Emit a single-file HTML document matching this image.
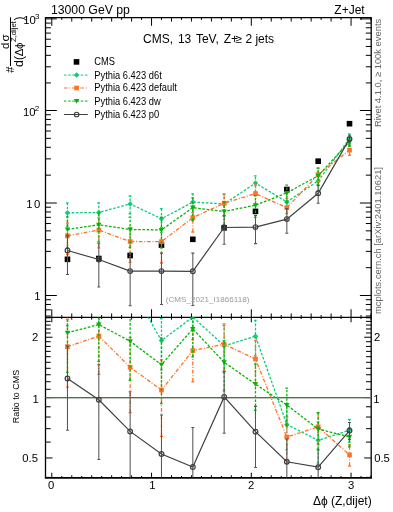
<!DOCTYPE html>
<html><head><meta charset="utf-8"><style>
html,body{margin:0;padding:0;background:#fff;width:393px;height:512px;overflow:hidden}
svg{display:block;will-change:transform}
text{font-family:"Liberation Sans", sans-serif}
</style></head><body>
<svg width="393" height="512" viewBox="0 0 393 512">
<rect width="393" height="512" fill="#fff"/>
<path d="M51.80 317.45v-8.2M51.80 17.55v8.2M51.80 317.4v4.9M51.80 477.6v-4.9M61.77 317.45v-2.4M61.77 17.55v2.4M61.77 317.4v1.6M61.77 477.6v-1.6M71.75 317.45v-4.0M71.75 17.55v4.0M71.75 317.4v2.3M71.75 477.6v-2.3M81.72 317.45v-2.4M81.72 17.55v2.4M81.72 317.4v1.6M81.72 477.6v-1.6M91.70 317.45v-4.0M91.70 17.55v4.0M91.70 317.4v2.3M91.70 477.6v-2.3M101.67 317.45v-2.4M101.67 17.55v2.4M101.67 317.4v1.6M101.67 477.6v-1.6M111.65 317.45v-4.0M111.65 17.55v4.0M111.65 317.4v2.3M111.65 477.6v-2.3M121.62 317.45v-2.4M121.62 17.55v2.4M121.62 317.4v1.6M121.62 477.6v-1.6M131.60 317.45v-4.0M131.60 17.55v4.0M131.60 317.4v2.3M131.60 477.6v-2.3M141.57 317.45v-2.4M141.57 17.55v2.4M141.57 317.4v1.6M141.57 477.6v-1.6M151.55 317.45v-8.2M151.55 17.55v8.2M151.55 317.4v4.9M151.55 477.6v-4.9M161.53 317.45v-2.4M161.53 17.55v2.4M161.53 317.4v1.6M161.53 477.6v-1.6M171.50 317.45v-4.0M171.50 17.55v4.0M171.50 317.4v2.3M171.50 477.6v-2.3M181.48 317.45v-2.4M181.48 17.55v2.4M181.48 317.4v1.6M181.48 477.6v-1.6M191.45 317.45v-4.0M191.45 17.55v4.0M191.45 317.4v2.3M191.45 477.6v-2.3M201.43 317.45v-2.4M201.43 17.55v2.4M201.43 317.4v1.6M201.43 477.6v-1.6M211.40 317.45v-4.0M211.40 17.55v4.0M211.40 317.4v2.3M211.40 477.6v-2.3M221.38 317.45v-2.4M221.38 17.55v2.4M221.38 317.4v1.6M221.38 477.6v-1.6M231.35 317.45v-4.0M231.35 17.55v4.0M231.35 317.4v2.3M231.35 477.6v-2.3M241.32 317.45v-2.4M241.32 17.55v2.4M241.32 317.4v1.6M241.32 477.6v-1.6M251.30 317.45v-8.2M251.30 17.55v8.2M251.30 317.4v4.9M251.30 477.6v-4.9M261.28 317.45v-2.4M261.28 17.55v2.4M261.28 317.4v1.6M261.28 477.6v-1.6M271.25 317.45v-4.0M271.25 17.55v4.0M271.25 317.4v2.3M271.25 477.6v-2.3M281.22 317.45v-2.4M281.22 17.55v2.4M281.22 317.4v1.6M281.22 477.6v-1.6M291.20 317.45v-4.0M291.20 17.55v4.0M291.20 317.4v2.3M291.20 477.6v-2.3M301.18 317.45v-2.4M301.18 17.55v2.4M301.18 317.4v1.6M301.18 477.6v-1.6M311.15 317.45v-4.0M311.15 17.55v4.0M311.15 317.4v2.3M311.15 477.6v-2.3M321.13 317.45v-2.4M321.13 17.55v2.4M321.13 317.4v1.6M321.13 477.6v-1.6M331.10 317.45v-4.0M331.10 17.55v4.0M331.10 317.4v2.3M331.10 477.6v-2.3M341.07 317.45v-2.4M341.07 17.55v2.4M341.07 317.4v1.6M341.07 477.6v-1.6M351.05 317.45v-8.2M351.05 17.55v8.2M351.05 317.4v4.9M351.05 477.6v-4.9M361.03 317.45v-2.4M361.03 17.55v2.4M361.03 317.4v1.6M361.03 477.6v-1.6M371.00 317.45v-4.0M371.00 17.55v4.0M371.00 317.4v2.3M371.00 477.6v-2.3M45.5 316.02h5.4M371.2 316.02h-5.4M45.5 309.83h5.4M371.2 309.83h-5.4M45.5 304.46h5.4M371.2 304.46h-5.4M45.5 299.73h5.4M371.2 299.73h-5.4M45.5 295.50h11.3M371.2 295.50h-11.3M45.5 267.65h5.4M371.2 267.65h-5.4M45.5 251.37h5.4M371.2 251.37h-5.4M45.5 239.81h5.4M371.2 239.81h-5.4M45.5 230.85h5.4M371.2 230.85h-5.4M45.5 223.52h5.4M371.2 223.52h-5.4M45.5 217.33h5.4M371.2 217.33h-5.4M45.5 211.96h5.4M371.2 211.96h-5.4M45.5 207.23h5.4M371.2 207.23h-5.4M45.5 203.00h11.3M371.2 203.00h-11.3M45.5 175.15h5.4M371.2 175.15h-5.4M45.5 158.87h5.4M371.2 158.87h-5.4M45.5 147.31h5.4M371.2 147.31h-5.4M45.5 138.35h5.4M371.2 138.35h-5.4M45.5 131.02h5.4M371.2 131.02h-5.4M45.5 124.83h5.4M371.2 124.83h-5.4M45.5 119.46h5.4M371.2 119.46h-5.4M45.5 114.73h5.4M371.2 114.73h-5.4M45.5 110.50h11.3M371.2 110.50h-11.3M45.5 82.93h5.4M371.2 82.93h-5.4M45.5 66.80h5.4M371.2 66.80h-5.4M45.5 55.35h5.4M371.2 55.35h-5.4M45.5 46.47h5.4M371.2 46.47h-5.4M45.5 39.22h5.4M371.2 39.22h-5.4M45.5 33.09h5.4M371.2 33.09h-5.4M45.5 27.78h5.4M371.2 27.78h-5.4M45.5 23.09h5.4M371.2 23.09h-5.4M45.5 18.90h11.3M371.2 18.90h-11.3M45.5 477.39h5.2M371.2 477.39h-5.2M45.5 457.96h7.0M371.2 457.96h-7.0M45.5 442.08h5.2M371.2 442.08h-5.2M45.5 428.66h5.2M371.2 428.66h-5.2M45.5 417.03h5.2M371.2 417.03h-5.2M45.5 406.77h5.2M371.2 406.77h-5.2M45.5 397.60h7.0M371.2 397.60h-7.0M45.5 389.30h5.2M371.2 389.30h-5.2M45.5 381.72h5.2M371.2 381.72h-5.2M45.5 374.75h5.2M371.2 374.75h-5.2M45.5 368.30h5.2M371.2 368.30h-5.2M45.5 362.29h5.2M371.2 362.29h-5.2M45.5 356.67h5.2M371.2 356.67h-5.2M45.5 351.39h5.2M371.2 351.39h-5.2M45.5 346.42h5.2M371.2 346.42h-5.2M45.5 341.71h5.2M371.2 341.71h-5.2M45.5 337.24h7.0M371.2 337.24h-7.0M45.5 333.00h5.2M371.2 333.00h-5.2M45.5 328.94h5.2M371.2 328.94h-5.2M45.5 325.07h5.2M371.2 325.07h-5.2M45.5 321.37h5.2M371.2 321.37h-5.2M45.5 317.81h5.2M371.2 317.81h-5.2" stroke="#000" stroke-width="1" fill="none"/>
<path d="M45.5 17.55H371.2M45.5 317.45H371.2M45.5 17.55V477.6M371.2 17.55V477.6" fill="none" stroke="#000" stroke-width="1.3" stroke-linecap="square"/>
<path d="M44.9 477.90000000000003H371.8" fill="none" stroke="#000" stroke-width="1.8"/>
<defs><clipPath id="cm"><rect x="45.5" y="17.4" width="325.5" height="300"/></clipPath><clipPath id="cr"><rect x="45.5" y="317.4" width="325.5" height="160.2"/></clipPath></defs>
<g clip-path="url(#cm)"><rect x="64.67" y="256.50" width="5.6" height="5.6" fill="#000"/><rect x="96.01" y="255.70" width="5.6" height="5.6" fill="#000"/><rect x="127.34" y="252.70" width="5.6" height="5.6" fill="#000"/><rect x="158.68" y="242.30" width="5.6" height="5.6" fill="#000"/><rect x="190.02" y="236.50" width="5.6" height="5.6" fill="#000"/><rect x="221.36" y="225.00" width="5.6" height="5.6" fill="#000"/><rect x="252.69" y="208.60" width="5.6" height="5.6" fill="#000"/><rect x="284.03" y="186.70" width="5.6" height="5.6" fill="#000"/><rect x="315.37" y="158.40" width="5.6" height="5.6" fill="#000"/><rect x="346.71" y="120.90" width="5.6" height="5.6" fill="#000"/><path d="M67.47 212.80L98.81 212.50L130.14 203.90L161.48 218.80L192.82 202.10L224.16 203.90L255.49 183.10L286.83 201.90L318.17 180.90L349.51 138.70" fill="none" stroke="#0ecb7e" stroke-width="1.3" stroke-dasharray="2.6 1.6"/><path d="M67.47 226.14V202.80M65.97 226.14h3M65.97 202.80h3M98.81 224.97V203.00M97.31 224.97h3M97.31 203.00h3M130.14 213.74V196.00M128.64 213.74h3M128.64 196.00h3M161.48 232.32V208.70M159.98 232.32h3M159.98 208.70h3M192.82 212.57V193.80M191.32 212.57h3M191.32 193.80h3M224.16 216.32V194.43M222.66 216.32h3M222.66 194.43h3M255.49 192.03V175.80M253.99 192.03h3M253.99 175.80h3M286.83 213.60V192.85M285.33 213.60h3M285.33 192.85h3M318.17 191.44V172.56M316.67 191.44h3M316.67 172.56h3M349.51 144.28V133.80M348.01 144.28h3M348.01 133.80h3" fill="none" stroke="#0ecb7e" stroke-width="1.3" stroke-dasharray="2.6 1.6"/><path d="M67.47 210.05L70.22 212.80L67.47 215.55L64.72 212.80Z" fill="#0ecb7e"/><path d="M98.81 209.75L101.56 212.50L98.81 215.25L96.06 212.50Z" fill="#0ecb7e"/><path d="M130.14 201.15L132.89 203.90L130.14 206.65L127.39 203.90Z" fill="#0ecb7e"/><path d="M161.48 216.05L164.23 218.80L161.48 221.55L158.73 218.80Z" fill="#0ecb7e"/><path d="M192.82 199.35L195.57 202.10L192.82 204.85L190.07 202.10Z" fill="#0ecb7e"/><path d="M224.16 201.15L226.91 203.90L224.16 206.65L221.41 203.90Z" fill="#0ecb7e"/><path d="M255.49 180.35L258.24 183.10L255.49 185.85L252.74 183.10Z" fill="#0ecb7e"/><path d="M286.83 199.15L289.58 201.90L286.83 204.65L284.08 201.90Z" fill="#0ecb7e"/><path d="M318.17 178.15L320.92 180.90L318.17 183.65L315.42 180.90Z" fill="#0ecb7e"/><path d="M349.51 135.95L352.26 138.70L349.51 141.45L346.76 138.70Z" fill="#0ecb7e"/><path d="M67.47 235.80L98.81 230.10L130.14 241.50L161.48 241.60L192.82 217.60L224.16 203.20L255.49 193.60L286.83 207.70L318.17 174.70L349.51 150.10" fill="none" stroke="#ff7328" stroke-width="1.3" stroke-dasharray="3.8 1.7 1.0 1.7"/><path d="M67.47 254.50V223.09M65.97 254.50h3M65.97 223.09h3M98.81 247.80V217.86M97.31 247.80h3M97.31 217.86h3M130.14 262.40V227.82M128.64 262.40h3M128.64 227.82h3M161.48 263.00V227.71M159.98 263.00h3M159.98 227.71h3M192.82 232.00V207.02M191.32 232.00h3M191.32 207.02h3M224.16 215.49V193.80M222.66 215.49h3M222.66 193.80h3M255.49 204.56V185.00M253.99 204.56h3M253.99 185.00h3M286.83 219.82V198.40M285.33 219.82h3M285.33 198.40h3M318.17 182.60V168.10M316.67 182.60h3M316.67 168.10h3M349.51 155.30V145.50M348.01 155.30h3M348.01 145.50h3" fill="none" stroke="#ff7328" stroke-width="1.3" stroke-dasharray="3.8 1.7 1.0 1.7"/><rect x="65.12" y="233.45" width="4.7" height="4.7" fill="#ff7328"/><rect x="96.46" y="227.75" width="4.7" height="4.7" fill="#ff7328"/><rect x="127.79" y="239.15" width="4.7" height="4.7" fill="#ff7328"/><rect x="159.13" y="239.25" width="4.7" height="4.7" fill="#ff7328"/><rect x="190.47" y="215.25" width="4.7" height="4.7" fill="#ff7328"/><rect x="221.81" y="200.85" width="4.7" height="4.7" fill="#ff7328"/><rect x="253.14" y="191.25" width="4.7" height="4.7" fill="#ff7328"/><rect x="284.48" y="205.35" width="4.7" height="4.7" fill="#ff7328"/><rect x="315.82" y="172.35" width="4.7" height="4.7" fill="#ff7328"/><rect x="347.16" y="147.75" width="4.7" height="4.7" fill="#ff7328"/><path d="M67.47 229.40L98.81 224.80L130.14 229.50L161.48 229.90L192.82 207.60L224.16 211.50L255.49 205.20L286.83 192.90L318.17 175.70L349.51 141.80" fill="none" stroke="#07b307" stroke-width="1.3" stroke-dasharray="2.6 1.6"/><path d="M67.47 247.70V216.87M65.97 247.70h3M65.97 216.87h3M98.81 241.80V212.89M97.31 241.80h3M97.31 212.89h3M130.14 247.50V217.11M128.64 247.50h3M128.64 217.11h3M161.48 247.90V217.51M159.98 247.90h3M159.98 217.51h3M192.82 220.50V197.85M191.32 220.50h3M191.32 197.85h3M224.16 224.70V201.58M222.66 224.70h3M222.66 201.58h3M255.49 217.30V195.91M253.99 217.30h3M253.99 195.91h3M286.83 202.59V185.10M285.33 202.59h3M285.33 185.10h3M318.17 185.00V168.15M316.67 185.00h3M316.67 168.15h3M349.51 146.44V137.64M348.01 146.44h3M348.01 137.64h3" fill="none" stroke="#07b307" stroke-width="1.3" stroke-dasharray="2.6 1.6"/><path d="M64.77 227.40L70.17 227.40L67.47 232.10Z" fill="#07b307"/><path d="M96.11 222.80L101.51 222.80L98.81 227.50Z" fill="#07b307"/><path d="M127.44 227.50L132.84 227.50L130.14 232.20Z" fill="#07b307"/><path d="M158.78 227.90L164.18 227.90L161.48 232.60Z" fill="#07b307"/><path d="M190.12 205.60L195.52 205.60L192.82 210.30Z" fill="#07b307"/><path d="M221.46 209.50L226.86 209.50L224.16 214.20Z" fill="#07b307"/><path d="M252.79 203.20L258.19 203.20L255.49 207.90Z" fill="#07b307"/><path d="M284.13 190.90L289.53 190.90L286.83 195.60Z" fill="#07b307"/><path d="M315.47 173.70L320.87 173.70L318.17 178.40Z" fill="#07b307"/><path d="M346.81 139.80L352.21 139.80L349.51 144.50Z" fill="#07b307"/><path d="M67.47 250.50L98.81 259.50L130.14 271.10L161.48 271.10L192.82 271.30L224.16 227.50L255.49 227.10L286.83 219.10L318.17 193.30L349.51 138.90" fill="none" stroke="#404040" stroke-width="1.2"/><path d="M67.47 274.40V235.62M65.97 274.40h3M65.97 235.62h3M98.81 287.08V243.30M97.31 287.08h3M97.31 243.30h3M130.14 305.67V252.80M128.64 305.67h3M128.64 252.80h3M161.48 304.57V253.10M159.98 304.57h3M159.98 253.10h3M192.82 305.49V253.10M191.32 305.49h3M191.32 253.10h3M224.16 244.20V215.74M222.66 244.20h3M222.66 215.74h3M255.49 243.60V215.44M253.99 243.60h3M253.99 215.44h3M286.83 233.30V208.63M285.33 233.30h3M285.33 208.63h3M318.17 203.20V185.36M316.67 203.20h3M316.67 185.36h3M349.51 142.98V135.20M348.01 142.98h3M348.01 135.20h3" fill="none" stroke="#555" stroke-width="1.05"/><circle cx="67.47" cy="250.50" r="2.35" fill="none" stroke="#404040" stroke-width="1.2"/><circle cx="98.81" cy="259.50" r="2.35" fill="none" stroke="#404040" stroke-width="1.2"/><circle cx="130.14" cy="271.10" r="2.35" fill="none" stroke="#404040" stroke-width="1.2"/><circle cx="161.48" cy="271.10" r="2.35" fill="none" stroke="#404040" stroke-width="1.2"/><circle cx="192.82" cy="271.30" r="2.35" fill="none" stroke="#404040" stroke-width="1.2"/><circle cx="224.16" cy="227.50" r="2.35" fill="none" stroke="#404040" stroke-width="1.2"/><circle cx="255.49" cy="227.10" r="2.35" fill="none" stroke="#404040" stroke-width="1.2"/><circle cx="286.83" cy="219.10" r="2.35" fill="none" stroke="#404040" stroke-width="1.2"/><circle cx="318.17" cy="193.30" r="2.35" fill="none" stroke="#404040" stroke-width="1.2"/><circle cx="349.51" cy="138.90" r="2.35" fill="none" stroke="#404040" stroke-width="1.2"/></g>
<path d="M45.5 398.60H371.2" stroke="#000" stroke-opacity="0.12" stroke-width="1"/>
<path d="M45.5 397.60H371.2" stroke="#4f7443" stroke-width="1.1"/>
<g clip-path="url(#cr)"><path d="M67.47 296.81L98.81 297.89L130.14 285.75L161.48 340.59L192.82 316.97L224.16 345.80L255.49 336.26L286.83 424.48L318.17 440.30L349.51 430.11" fill="none" stroke="#0ecb7e" stroke-width="1.3" stroke-dasharray="2.6 1.6"/><path d="M67.47 325.73V275.13M65.97 325.73h3M65.97 275.13h3M98.81 324.91V277.30M97.31 324.91h3M97.31 277.30h3M130.14 307.09V268.63M128.64 307.09h3M128.64 268.63h3M161.48 369.91V318.70M159.98 369.91h3M159.98 318.70h3M192.82 339.67V298.98M191.32 339.67h3M191.32 298.98h3M224.16 372.71V325.26M222.66 372.71h3M222.66 325.26h3M255.49 355.61V320.43M253.99 355.61h3M253.99 320.43h3M286.83 449.84V404.86M285.33 449.84h3M285.33 404.86h3M318.17 463.14V422.22M316.67 463.14h3M316.67 422.22h3M349.51 442.21V419.49M348.01 442.21h3M348.01 419.49h3" fill="none" stroke="#0ecb7e" stroke-width="1.3" stroke-dasharray="2.6 1.6"/><path d="M67.47 294.06L70.22 296.81L67.47 299.56L64.72 296.81Z" fill="#0ecb7e"/><path d="M98.81 295.14L101.56 297.89L98.81 300.64L96.06 297.89Z" fill="#0ecb7e"/><path d="M130.14 283.00L132.89 285.75L130.14 288.50L127.39 285.75Z" fill="#0ecb7e"/><path d="M161.48 337.84L164.23 340.59L161.48 343.34L158.73 340.59Z" fill="#0ecb7e"/><path d="M192.82 314.22L195.57 316.97L192.82 319.72L190.07 316.97Z" fill="#0ecb7e"/><path d="M224.16 343.05L226.91 345.80L224.16 348.55L221.41 345.80Z" fill="#0ecb7e"/><path d="M255.49 333.51L258.24 336.26L255.49 339.01L252.74 336.26Z" fill="#0ecb7e"/><path d="M286.83 421.73L289.58 424.48L286.83 427.23L284.08 424.48Z" fill="#0ecb7e"/><path d="M318.17 437.55L320.92 440.30L318.17 443.05L315.42 440.30Z" fill="#0ecb7e"/><path d="M349.51 427.36L352.26 430.11L349.51 432.86L346.76 430.11Z" fill="#0ecb7e"/><path d="M67.47 346.66L98.81 336.04L130.14 367.25L161.48 390.01L192.82 350.56L224.16 344.28L255.49 359.02L286.83 437.05L318.17 426.86L349.51 454.82" fill="none" stroke="#ff7328" stroke-width="1.3" stroke-dasharray="3.8 1.7 1.0 1.7"/><path d="M67.47 387.20V319.11M65.97 387.20h3M65.97 319.11h3M98.81 374.41V309.50M97.31 374.41h3M97.31 309.50h3M130.14 412.56V337.61M128.64 412.56h3M128.64 337.61h3M161.48 436.40V359.91M159.98 436.40h3M159.98 359.91h3M192.82 381.78V327.63M191.32 381.78h3M191.32 327.63h3M224.16 370.93V323.90M222.66 370.93h3M222.66 323.90h3M255.49 382.77V340.38M253.99 382.77h3M253.99 340.38h3M286.83 463.33V416.89M285.33 463.33h3M285.33 416.89h3M318.17 443.99V412.56M316.67 443.99h3M316.67 412.56h3M349.51 466.10V444.85M348.01 466.10h3M348.01 444.85h3" fill="none" stroke="#ff7328" stroke-width="1.3" stroke-dasharray="3.8 1.7 1.0 1.7"/><rect x="65.12" y="344.31" width="4.7" height="4.7" fill="#ff7328"/><rect x="96.46" y="333.69" width="4.7" height="4.7" fill="#ff7328"/><rect x="127.79" y="364.90" width="4.7" height="4.7" fill="#ff7328"/><rect x="159.13" y="387.66" width="4.7" height="4.7" fill="#ff7328"/><rect x="190.47" y="348.21" width="4.7" height="4.7" fill="#ff7328"/><rect x="221.81" y="341.93" width="4.7" height="4.7" fill="#ff7328"/><rect x="253.14" y="356.67" width="4.7" height="4.7" fill="#ff7328"/><rect x="284.48" y="434.70" width="4.7" height="4.7" fill="#ff7328"/><rect x="315.82" y="424.51" width="4.7" height="4.7" fill="#ff7328"/><rect x="347.16" y="452.47" width="4.7" height="4.7" fill="#ff7328"/><path d="M67.47 332.79L98.81 324.55L130.14 341.24L161.48 364.65L192.82 328.89L224.16 362.27L255.49 384.16L286.83 404.97L318.17 429.03L349.51 436.83" fill="none" stroke="#07b307" stroke-width="1.3" stroke-dasharray="2.6 1.6"/><path d="M67.47 372.46V305.64M65.97 372.46h3M65.97 305.64h3M98.81 361.40V298.74M97.31 361.40h3M97.31 298.74h3M130.14 380.26V314.40M128.64 380.26h3M128.64 314.40h3M161.48 403.67V337.81M159.98 403.67h3M159.98 337.81h3M192.82 356.85V307.76M191.32 356.85h3M191.32 307.76h3M224.16 390.88V340.77M222.66 390.88h3M222.66 340.77h3M255.49 410.39V364.03M253.99 410.39h3M253.99 364.03h3M286.83 425.97V388.06M285.33 425.97h3M285.33 388.06h3M318.17 449.19V412.67M316.67 449.19h3M316.67 412.67h3M349.51 446.88V427.83M348.01 446.88h3M348.01 427.83h3" fill="none" stroke="#07b307" stroke-width="1.3" stroke-dasharray="2.6 1.6"/><path d="M64.77 330.79L70.17 330.79L67.47 335.49Z" fill="#07b307"/><path d="M96.11 322.55L101.51 322.55L98.81 327.25Z" fill="#07b307"/><path d="M127.44 339.24L132.84 339.24L130.14 343.94Z" fill="#07b307"/><path d="M158.78 362.65L164.18 362.65L161.48 367.35Z" fill="#07b307"/><path d="M190.12 326.89L195.52 326.89L192.82 331.59Z" fill="#07b307"/><path d="M221.46 360.27L226.86 360.27L224.16 364.97Z" fill="#07b307"/><path d="M252.79 382.16L258.19 382.16L255.49 386.86Z" fill="#07b307"/><path d="M284.13 402.97L289.53 402.97L286.83 407.67Z" fill="#07b307"/><path d="M315.47 427.03L320.87 427.03L318.17 431.73Z" fill="#07b307"/><path d="M346.81 434.83L352.21 434.83L349.51 439.53Z" fill="#07b307"/><path d="M67.47 378.53L98.81 399.77L130.14 431.41L161.48 453.96L192.82 466.96L224.16 396.95L255.49 431.63L286.83 461.76L318.17 467.18L349.51 430.55" fill="none" stroke="#404040" stroke-width="1.2"/><path d="M67.47 430.33V346.27M65.97 430.33h3M65.97 346.27h3M98.81 459.55V364.65M97.31 459.55h3M97.31 364.65h3M130.14 506.34V391.75M128.64 506.34h3M128.64 391.75h3M161.48 526.50V414.94M159.98 526.50h3M159.98 414.94h3M192.82 541.08V427.51M191.32 541.08h3M191.32 427.51h3M224.16 433.15V371.46M222.66 433.15h3M222.66 371.46h3M255.49 467.40V406.35M253.99 467.40h3M253.99 406.35h3M286.83 492.54V439.06M285.33 492.54h3M285.33 439.06h3M318.17 488.64V449.98M316.67 488.64h3M316.67 449.98h3M349.51 439.38V422.53M348.01 439.38h3M348.01 422.53h3" fill="none" stroke="#555" stroke-width="1.05"/><circle cx="67.47" cy="378.53" r="2.35" fill="none" stroke="#404040" stroke-width="1.2"/><circle cx="98.81" cy="399.77" r="2.35" fill="none" stroke="#404040" stroke-width="1.2"/><circle cx="130.14" cy="431.41" r="2.35" fill="none" stroke="#404040" stroke-width="1.2"/><circle cx="161.48" cy="453.96" r="2.35" fill="none" stroke="#404040" stroke-width="1.2"/><circle cx="192.82" cy="466.96" r="2.35" fill="none" stroke="#404040" stroke-width="1.2"/><circle cx="224.16" cy="396.95" r="2.35" fill="none" stroke="#404040" stroke-width="1.2"/><circle cx="255.49" cy="431.63" r="2.35" fill="none" stroke="#404040" stroke-width="1.2"/><circle cx="286.83" cy="461.76" r="2.35" fill="none" stroke="#404040" stroke-width="1.2"/><circle cx="318.17" cy="467.18" r="2.35" fill="none" stroke="#404040" stroke-width="1.2"/><circle cx="349.51" cy="430.55" r="2.35" fill="none" stroke="#404040" stroke-width="1.2"/></g>
<rect x="73.70" y="59.10" width="5.6" height="5.6" fill="#000"/>
<path d="M63.9 75.1H87.8" stroke="#0ecb7e" stroke-width="1.0" stroke-dasharray="2.6 1.6" fill="none"/>
<path d="M76.60 72.35L79.35 75.10L76.60 77.85L73.85 75.10Z" fill="#0ecb7e"/>
<path d="M63.9 88.0H87.8" stroke="#ff7328" stroke-width="1.0" stroke-dasharray="3.8 1.7 1.0 1.7" fill="none"/>
<rect x="74.25" y="85.65" width="4.7" height="4.7" fill="#ff7328"/>
<path d="M63.9 101.1H87.8" stroke="#07b307" stroke-width="1.0" stroke-dasharray="2.6 1.6" fill="none"/>
<path d="M73.90 99.10L79.30 99.10L76.60 103.80Z" fill="#07b307"/>
<path d="M63.9 114.5H87.8" stroke="#404040" stroke-width="1.0" fill="none"/>
<circle cx="76.60" cy="114.50" r="2.3" fill="none" stroke="#404040" stroke-width="1.1"/>
<text x="50.9" y="13.7" font-size="12.25" text-anchor="start" fill="#000" >13000 GeV pp</text>
<text x="364.7" y="13.9" font-size="12" text-anchor="end" fill="#000" >Z+Jet</text>
<text x="208.6" y="42.6" font-size="12" text-anchor="middle" fill="#000" >CMS, <tspan dx="1.5">13</tspan> <tspan dx="1.5">TeV,</tspan> <tspan dx="1.5">Z+</tspan><tspan dx="-2.5">≥</tspan> 2 jets</text>
<text x="23.15" y="23.9" font-size="11.3">10</text>
<text x="34.90" y="18.8" font-size="8">3</text>
<text x="23.00" y="115.7" font-size="11.3">10</text>
<text x="34.66" y="110.9" font-size="8">2</text>
<text x="26.27" y="207.7" font-size="11.3">1</text>
<text x="34.04" y="207.7" font-size="11.3">0</text>
<text x="34.17" y="299.8" font-size="11.3">1</text>
<text x="31.94" y="340.7" font-size="11.3">2</text>
<text x="32.42" y="402.8" font-size="11.3">1</text>
<text x="22.30" y="461.7" font-size="11.3">0.5</text>
<text x="373.99" y="340.8" font-size="11.3">2</text>
<text x="373.27" y="402.8" font-size="11.3">1</text>
<text x="374.20" y="461.8" font-size="11.3">0.5</text>
<text x="47.89" y="488.7" font-size="11.3">0</text>
<text x="149.17" y="488.7" font-size="11.3">1</text>
<text x="247.89" y="488.7" font-size="11.3">2</text>
<text x="347.94" y="488.7" font-size="11.3">3</text>
<text x="371.7" y="505.4" font-size="12" text-anchor="end" fill="#000" >Δϕ (Z,dijet)</text>
<text x="207.6" y="301.8" font-size="8.1" text-anchor="middle" fill="#999" >(CMS_2021_I1866118)</text>
<text font-size="9.0" text-anchor="middle" transform="translate(18.9 396.6) rotate(-90)">Ratio to CMS</text>
<text font-size="9.4" fill="#666" transform="translate(380.8 127.1) rotate(-90)">Rivet 4.1.0, ≥ 100k events</text>
<text font-size="9.4" fill="#666" transform="translate(380.8 314.0) rotate(-90)">mcplots.cern.ch [arXiv:2401.10621]</text>
<text font-size="10.1" transform="translate(94.3 65.30) scale(0.925 1)">CMS</text>
<text font-size="10.1" transform="translate(94.3 78.50) scale(0.925 1)">Pythia 6.423 d6t</text>
<text font-size="10.1" transform="translate(94.3 91.40) scale(0.925 1)">Pythia 6.423 default</text>
<text font-size="10.1" transform="translate(94.3 104.50) scale(0.925 1)">Pythia 6.423 dw</text>
<text font-size="10.1" transform="translate(94.3 117.90) scale(0.925 1)">Pythia 6.423 p0</text>
<g transform="translate(10.5 72.5) rotate(-90)"><text x="-0.15" y="3.3" font-size="11">#</text><path d="M6.4 0H55.2" stroke="#000" stroke-width="1"/><text x="23.45" y="-1.9" font-size="11.5">d</text><text x="30.97" y="-1.9" font-size="11.5">σ</text><text x="5.6" y="12.8" font-size="12.5">d</text><text x="12.5" y="12.8" font-size="12">(</text><text x="16.35" y="12.8" font-size="11.5">Δ</text><text x="23.58" y="12.8" font-size="11.5">ϕ</text><text x="30.55" y="5.2" font-size="7.6">Z,dijet</text><text x="51.9" y="12.8" font-size="12">)</text></g>
</svg>
</body></html>
